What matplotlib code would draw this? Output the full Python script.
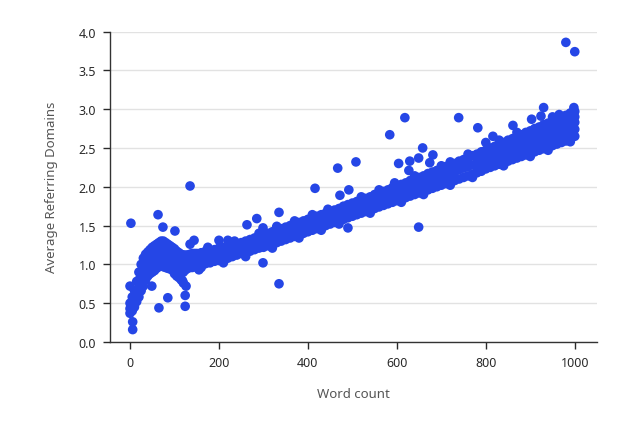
import matplotlib
matplotlib.use("Agg")
import matplotlib.pyplot as plt

# ---- data ----
# main band: word count columns with lower / middle / upper values
band_x = [0, 5, 10, 15, 20, 25, 30, 35, 40, 45, 50, 55, 60, 65, 70, 75, 80, 85, 90, 95,
          100, 105, 110, 115, 120, 125, 130, 135, 140, 145,
          150, 160, 170, 180, 190, 200, 210, 220, 230, 240, 250, 260, 270, 280, 290,
          300, 310, 320, 330, 340, 350, 360, 370, 380, 390, 400, 410, 420, 430, 440,
          450, 460, 470, 480, 490, 500, 510, 520, 530, 540, 550, 560, 570, 580, 590,
          600, 610, 620, 630, 640, 650, 660, 670, 680, 690, 700, 710, 720, 730, 740,
          750, 760, 770, 780, 790, 800, 810, 820, 830, 840, 850, 860, 870, 880, 890,
          900, 910, 920, 930, 940, 950, 960, 970, 980, 990, 1000]
band_lo = [0.37, 0.40, 0.45, 0.52, 0.58, 0.66, 0.72, 0.80, 0.85, 0.88, 0.90, 0.92, 0.95, 0.97, 0.98, 0.97, 0.96, 0.95, 0.94, 0.93,
           0.92, 0.92, 0.90, 0.88, 0.90, 0.93, 0.95, 0.96, 0.96, 0.97,
           0.99, 1.00, 1.01, 1.02, 1.04, 1.05, 1.07, 1.08, 1.10, 1.12, 1.14, 1.15, 1.17, 1.19, 1.21,
           1.22, 1.24, 1.26, 1.28, 1.30, 1.32, 1.34, 1.36, 1.38, 1.40, 1.42, 1.44, 1.46, 1.48, 1.50,
           1.52, 1.54, 1.56, 1.58, 1.60, 1.62, 1.64, 1.66, 1.68, 1.70, 1.72, 1.74, 1.76, 1.78, 1.80,
           1.82, 1.84, 1.86, 1.88, 1.90, 1.92, 1.94, 1.96, 1.98, 2.00, 2.02, 2.04, 2.06, 2.08, 2.10,
           2.12, 2.14, 2.16, 2.18, 2.20, 2.23, 2.25, 2.27, 2.29, 2.31, 2.33, 2.35, 2.37, 2.39, 2.41,
           2.43, 2.45, 2.47, 2.49, 2.51, 2.53, 2.55, 2.57, 2.59, 2.62, 2.65]
band_mid = [0.43, 0.48, 0.55, 0.63, 0.70, 0.80, 0.87, 0.95, 1.00, 1.05, 1.08, 1.10, 1.12, 1.14, 1.15, 1.14, 1.13, 1.12, 1.10, 1.08,
            1.06, 1.05, 1.04, 1.03, 1.03, 1.04, 1.04, 1.05, 1.05, 1.06,
            1.06, 1.08, 1.09, 1.10, 1.12, 1.13, 1.14, 1.16, 1.18, 1.20, 1.21, 1.23, 1.25, 1.27, 1.28,
            1.30, 1.32, 1.34, 1.36, 1.38, 1.40, 1.42, 1.44, 1.46, 1.48, 1.50, 1.52, 1.54, 1.56, 1.58,
            1.60, 1.62, 1.64, 1.66, 1.68, 1.71, 1.73, 1.75, 1.77, 1.79, 1.81, 1.83, 1.85, 1.87, 1.90,
            1.92, 1.94, 1.96, 1.98, 2.00, 2.02, 2.04, 2.06, 2.08, 2.11, 2.13, 2.15, 2.17, 2.19, 2.22,
            2.24, 2.26, 2.28, 2.31, 2.33, 2.36, 2.38, 2.40, 2.42, 2.45, 2.47, 2.49, 2.51, 2.54, 2.56,
            2.59, 2.61, 2.63, 2.66, 2.68, 2.70, 2.73, 2.75, 2.78, 2.80, 2.83]
band_hi = [0.50, 0.58, 0.66, 0.78, 0.90, 1.00, 1.08, 1.13, 1.16, 1.19, 1.22, 1.24, 1.26, 1.28, 1.30, 1.30, 1.28, 1.26, 1.24, 1.22,
           1.20, 1.17, 1.15, 1.13, 1.12, 1.12, 1.12, 1.13, 1.14, 1.14,
           1.14, 1.15, 1.17, 1.18, 1.19, 1.21, 1.22, 1.24, 1.25, 1.27, 1.28, 1.30, 1.32, 1.34, 1.36,
           1.38, 1.40, 1.42, 1.44, 1.46, 1.48, 1.50, 1.52, 1.54, 1.56, 1.58, 1.60, 1.62, 1.64, 1.66,
           1.68, 1.70, 1.72, 1.75, 1.77, 1.79, 1.81, 1.83, 1.85, 1.87, 1.90, 1.92, 1.94, 1.96, 1.99,
           2.01, 2.03, 2.05, 2.08, 2.10, 2.12, 2.14, 2.17, 2.19, 2.21, 2.23, 2.26, 2.28, 2.30, 2.33,
           2.35, 2.37, 2.40, 2.42, 2.45, 2.47, 2.50, 2.52, 2.55, 2.57, 2.60, 2.62, 2.65, 2.67, 2.70,
           2.72, 2.75, 2.77, 2.80, 2.82, 2.84, 2.87, 2.89, 2.92, 2.95, 2.97]

# extra points filling the wider parts of the band (start and end)
fill_x = [20, 20, 30, 30, 40, 40, 50, 50, 60, 60, 70, 70, 80, 80, 90, 90, 100, 100, 110, 110,
          65, 75, 85, 95, 25, 35, 45,
          780, 780, 790, 790, 800, 800, 810, 810, 820, 820, 830, 830, 840, 840, 850, 850,
          860, 860, 870, 870, 880, 880, 890, 890, 900, 900, 910, 910, 920, 920, 930, 930,
          940, 940, 950, 950, 960, 960, 970, 970, 980, 980, 990, 990, 1000, 1000]
fill_y = [0.64, 0.80, 0.80, 0.97, 0.92, 1.08, 0.99, 1.15, 1.03, 1.19, 1.06, 1.23, 1.05, 1.21, 1.02, 1.17, 0.99, 1.13, 0.97, 1.10,
          1.05, 1.22, 1.04, 1.00, 0.72, 0.88, 0.96,
          2.25, 2.37, 2.27, 2.40, 2.29, 2.42, 2.31, 2.44, 2.33, 2.46, 2.36, 2.48, 2.38, 2.51, 2.40, 2.53,
          2.42, 2.56, 2.44, 2.58, 2.46, 2.60, 2.48, 2.63, 2.51, 2.66, 2.53, 2.68, 2.55, 2.70, 2.57, 2.72,
          2.59, 2.75, 2.62, 2.78, 2.64, 2.80, 2.66, 2.83, 2.68, 2.85, 2.70, 2.88, 2.74, 2.90]

# bumps along the band edges
edge_x = [175, 235, 290, 330, 370, 410, 445, 520, 560, 595, 640, 700, 720, 760, 830, 870, 950, 965,
          160, 210, 260, 320, 380, 430, 470, 540, 610, 660, 720, 770, 840, 900, 940, 990]
edge_y = [1.22, 1.30, 1.40, 1.49, 1.56, 1.64, 1.71, 1.87, 1.96, 2.05, 2.14, 2.27, 2.32, 2.42, 2.60, 2.70, 2.90, 2.93,
          0.96, 1.02, 1.10, 1.21, 1.34, 1.44, 1.52, 1.66, 1.80, 1.90, 2.02, 2.12, 2.27, 2.39, 2.47, 2.58]

# early droop branch and scattered points off the band
out_x = [135, 2, 63, 74, 101, 144, 135, 200, 220, 263, 285, 299, 335, 299, 335, 155, 85, 65,
         124, 124, 118, 126, 6, 6, 0, 49, 100, 105, 110, 115, 120,
         618, 739, 584, 782, 658, 681, 649, 629, 604, 627, 674, 508, 467, 416, 492, 472, 490, 649,
         980, 1000, 930, 998, 903, 924, 861, 816, 800, 984]
out_y = [2.01, 1.53, 1.64, 1.48, 1.43, 1.31, 1.26, 1.31, 1.31, 1.51, 1.59, 1.47, 1.67, 1.02, 0.75, 0.93, 0.57, 0.44,
         0.60, 0.46, 0.79, 0.72, 0.26, 0.16, 0.72, 0.72, 0.88, 0.85, 0.83, 0.80, 0.76,
         2.89, 2.89, 2.67, 2.76, 2.50, 2.41, 2.37, 2.33, 2.30, 2.21, 2.31, 2.32, 2.24, 1.98, 1.96, 1.89, 1.47, 1.48,
         3.86, 3.74, 3.02, 3.02, 2.87, 2.91, 2.79, 2.65, 2.57, 2.62]

x_ticks = [0, 200, 400, 600, 800, 1000]
y_ticks = [0.0, 0.5, 1.0, 1.5, 2.0, 2.5, 3.0, 3.5, 4.0]
x_label = "Word count"
y_label = "Average Referring Domains"

# ---- drawing ----
plt.rcParams['font.family'] = ['Noto Sans', 'DejaVu Sans']
color = '#2546E6'

fig = plt.figure(figsize=(6.41, 4.35), dpi=100)
ax = fig.add_axes([110 / 641, 92 / 435, 487 / 641, 310.5 / 435])

xs = band_x + band_x + band_x + fill_x + edge_x + out_x
ys = band_lo + band_mid + band_hi + fill_y + edge_y + out_y
ax.scatter(xs, ys, s=48, color=color, edgecolors='none', zorder=3)

ax.set_xlim(-45, 1050)
ax.set_ylim(0, 4.0)
ax.set_xticks(x_ticks)
ax.set_yticks(y_ticks)
ax.set_yticklabels([f"{v:.1f}" for v in y_ticks])

ax.grid(axis='y', color='#e2e2e2', linewidth=1.0, zorder=0)
ax.grid(axis='x', visible=False)
for side in ('top', 'right'):
    ax.spines[side].set_visible(False)
for side in ('left', 'bottom'):
    ax.spines[side].set_color('#333333')
    ax.spines[side].set_linewidth(1.0)

ax.tick_params(axis='both', colors='#2a2a2a', labelsize=9, length=5, width=1.0, pad=5)
for lab in ax.get_xticklabels() + ax.get_yticklabels():
    lab.set_fontweight('medium')

ax.set_xlabel(x_label, fontsize=9.5, color='#555555', labelpad=13)
ax.set_ylabel(y_label, fontsize=9.5, color='#555555', labelpad=15)

fig.savefig('out.png', dpi=100)
